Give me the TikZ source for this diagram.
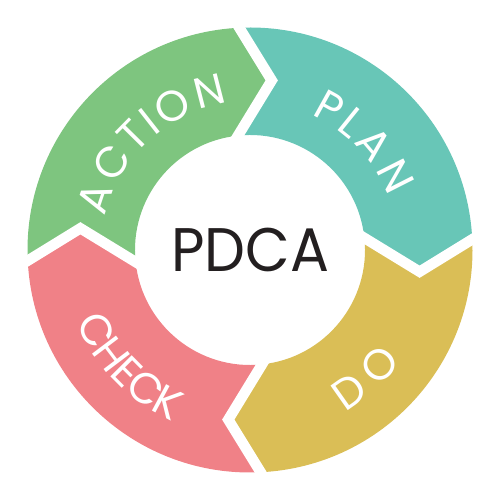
\documentclass[tikz,border=0pt]{standalone}
\usepackage{fontspec}
\setmainfont{Poppins}
\usetikzlibrary{decorations.text}
\definecolor{cgreen}{RGB}{126,197,127}
\definecolor{cteal}{RGB}{104,198,183}
\definecolor{cyellow}{RGB}{218,190,86}
\definecolor{cpink}{RGB}{240,129,135}
\definecolor{cdark}{RGB}{35,31,32}
\newcommand\lblfont{\fontsize{24.5}{24.5}\selectfont}
\tikzset{
  segfill/.style={fill=#1, draw=none},
  gapline/.style={draw=white, line width=0.21cm, line cap=rect, line join=miter},
  arctext/.style={decorate, decoration={text effects along path, text={#1},
      text align=center, text effects/.cd, text along path, fit text to path,
      characters={text=white, font=\lblfont, anchor=base}}},
  centertext/.style={font=\fontsize{35}{35}\selectfont, text=cdark, inner sep=0pt}
}
\begin{document}
\begin{tikzpicture}
\useasboundingbox (-5,-5) rectangle (5,5);
\def\Ro{4.45}
\def\Ri{2.30}
\def\Rt{3.42}
% ring segments (head boundary at angle h)
\foreach \h/\c in {0/cteal, 90/cgreen, 180/cpink, 270/cyellow} {
  \path[segfill=\c] (\h+92.75:\Ro) arc[start angle=\h+92.75, end angle=\h+2.75, radius=\Ro]
    -- (\h-7.3:\Rt) -- (\h+6:\Ri)
    arc[start angle=\h+6, end angle=\h+96, radius=\Ri]
    -- (\h+82.7:\Rt) -- cycle;
}
% white chevron gaps
\foreach \b in {0,90,180,270} {
  \path[gapline] (\b+2.75:\Ro) -- (\b-7.3:\Rt) -- (\b+6:\Ri);
}
% labels along the ring
\path[arctext=ACTION] (167:2.97) arc[start angle=167, end angle=98.5, radius=2.97];
\path[arctext=PLAN] (65.8:2.97) arc[start angle=65.8, end angle=21, radius=2.97];
\path[arctext=CHECK] (202.6:3.76) arc[start angle=202.6, end angle=245.7, radius=3.76];
\path[arctext=DO] (300.5:3.76) arc[start angle=300.5, end angle=323.5, radius=3.76];
% centre
\node[centertext] (pdca) at (0,0) {\scalebox{0.94}[1]{PDCA}};
\end{tikzpicture}
\end{document}
